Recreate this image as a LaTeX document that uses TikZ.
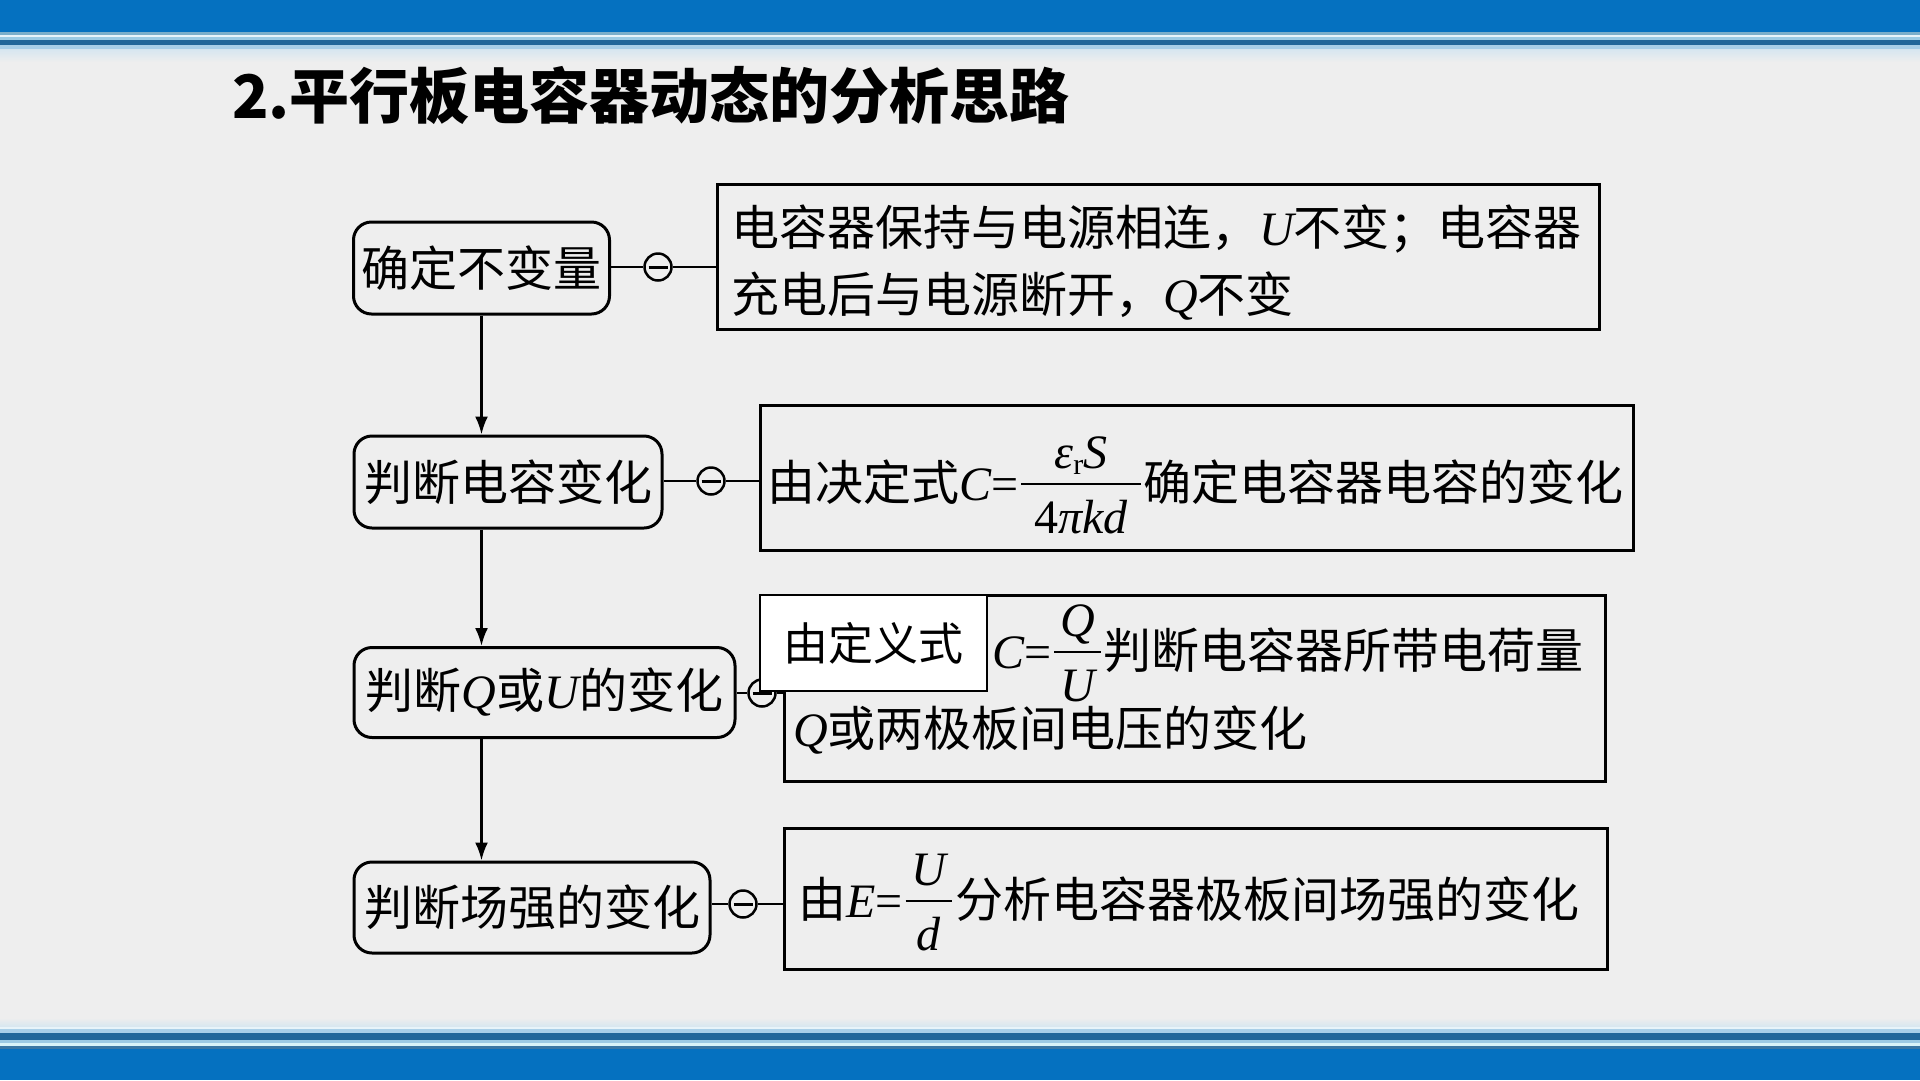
\documentclass[tikz,border=0pt]{standalone}
\usepackage{fontspec}
\setmainfont{Noto Sans CJK SC}
\newfontfamily\tms{Liberation Serif}
\usetikzlibrary{arrows.meta}
\definecolor{bg}{HTML}{EEEEEE}
\definecolor{topblue}{HTML}{0571C0}
\definecolor{sA}{HTML}{7BAFCB}
\definecolor{sB}{HTML}{E8F4FA}
\definecolor{sC}{HTML}{9CCBE4}
\definecolor{sD}{HTML}{22679A}
\definecolor{sE}{HTML}{A9CFE8}
\definecolor{sF}{HTML}{D6E6F0}
\definecolor{sG}{HTML}{D8F4F8}
\definecolor{sH}{HTML}{3A78A4}
\newcommand\fsz[1]{\fontsize{#1}{#1}\selectfont}
\newcommand\mi[1]{{\tms\itshape\fsz{48}#1}}
\newcommand\mr[1]{{\tms\fsz{48}#1}}
\newlength\fracw
\newsavebox\fnum
\newsavebox\fden
\newcommand\vfrac[3][12pt]{%
  \sbox\fnum{#2}\sbox\fden{#3}%
  \setlength\fracw{\wd\fnum}%
  \ifdim\wd\fden>\fracw \setlength\fracw{\wd\fden}\fi
  \addtolength\fracw{#1}%
  \kern3pt
  \rlap{\raisebox{32pt}{\makebox[\fracw]{\usebox\fnum}}}%
  \rlap{\raisebox{-33pt}{\makebox[\fracw]{\usebox\fden}}}%
  \raisebox{15pt}{\rule{\fracw}{2.4pt}}%
  \kern3pt}
\begin{document}
\begin{tikzpicture}[x=1pt,y=-1pt,
  lbox/.style={draw,line width=3pt,rounded corners=18pt,inner sep=0pt,font=\fsz{48}},
  rbox/.style={draw,line width=3pt,inner sep=0pt},
  wbox/.style={draw,fill=white,line width=2pt,inner sep=0pt,font=\fsz{45}},
  txt/.style={anchor=base west,inner sep=0pt,font=\fsz{48}},
  minuscirc/.style={circle,draw,line width=2.5pt,minimum size=27pt,inner sep=0pt,
    path picture={\draw[line width=3pt] ([xshift=4pt]path picture bounding box.west) -- ([xshift=-4pt]path picture bounding box.east);}},
  conn/.style={line width=2.5pt},
  arr/.style={line width=2.5pt,-{Latex[length=18pt,width=13pt]}}]
\useasboundingbox (0,0) rectangle (1920,1080);
% background and bands
\fill[bg] (0,0) rectangle (1920,1080);
\fill[topblue] (0,0) rectangle (1920,32);
\fill[sA] (0,32) rectangle (1920,35);
\fill[sB] (0,35) rectangle (1920,37);
\fill[sC] (0,37) rectangle (1920,40);
\fill[sD] (0,40) rectangle (1920,45);
\fill[sE] (0,45) rectangle (1920,49);
\shade[top color=sF,bottom color=bg] (0,49) rectangle (1920,62);
\shade[top color=bg,bottom color=sF] (0,1018) rectangle (1920,1027);
\fill[sB] (0,1027) rectangle (1920,1029);
\fill[sE] (0,1029) rectangle (1920,1033);
\fill[sD] (0,1033) rectangle (1920,1040);
\fill[sC] (0,1040) rectangle (1920,1043);
\fill[sG] (0,1043) rectangle (1920,1046);
\fill[sH] (0,1046) rectangle (1920,1049);
\fill[topblue] (0,1049) rectangle (1920,1080);
% title
\node[anchor=base west,inner sep=0pt,font=\fsz{60}\bfseries] (title) at (232,118) {2.平行板电容器动态的分析思路};
% left boxes
\node[lbox,minimum width=256pt,minimum height=92pt] (b1) at (481.5,268) {确定不变量};
\node[lbox,minimum width=308pt,minimum height=92pt] (b2) at (508,482) {判断电容变化};
\node[lbox,minimum width=381pt,minimum height=90pt] (b3) at (544.5,692.5) {判断\mi{Q}或\mi{U}的变化};
\node[lbox,minimum width=356pt,minimum height=91pt] (b4) at (532,907.5) {判断场强的变化};
% arrows
\draw[arr] (b1.south) -- (b1.south |- b2.north);
\draw[arr] (b1.south |- b2.south) -- (b1.south |- b3.north);
\draw[arr] (b1.south |- b3.south) -- (b1.south |- b4.north);
% right boxes
\node[rbox,minimum width=882pt,minimum height=145pt] (r1) at (1158,256.5) {};
\node[rbox,minimum width=873pt,minimum height=145pt] (r2) at (1196.5,477.5) {};
\node[rbox,minimum width=821pt,minimum height=186pt] (r3) at (1194.5,688) {};
\node[rbox,minimum width=823pt,minimum height=141pt] (r4) at (1195.5,898.5) {};
% circles and connectors
\node[minuscirc] (c1) at (658,267) {};
\node[minuscirc] (c2) at (711,481) {};
\node[minuscirc] (c3) at (762,693) {};
\node[minuscirc] (c4) at (743,904) {};
\draw[conn] (c1) -- (b1.east |- c1);
\draw[conn] (c1) -- (c1 -| r1.west);
\draw[conn] (c2) -- (b2.east |- c2);
\draw[conn] (c2) -- (c2 -| r2.west);
\draw[conn] (c3) -- (b3.east |- c3);
\draw[conn] (c3) -- (c3 -| r3.west);
\draw[conn] (c4) -- (b4.east |- c4);
\draw[conn] (c4) -- (c4 -| r4.west);
% texts
\node[txt] (t1a) at (731,245) {电容器保持与电源相连，\mi{U}不变；电容器};
\node[txt] (t1b) at (731,312) {充电后与电源断开，\mi{Q}不变};
\node[txt] (t2) at (767,500) {由决定式\mi{C}\mr{=}\vfrac[26pt]{\mi{ε}\raisebox{-6pt}{\tms\fsz{30}r}\mi{S}}{\mr{4}\mi{πkd}}确定电容器电容的变化};
\node[txt] (t3a) at (992,668) {\mi{C}\mr{=}\vfrac{\mi{Q}}{\mi{U}}判断电容器所带电荷量};
\node[txt] (t3b) at (793,746) {\mi{Q}或两极板间电压的变化};
\node[txt] (t4) at (798,917) {由\mi{E}\mr{=}\vfrac{\mi{U}}{\mi{d}}分析电容器极板间场强的变化};
% white label box
\node[wbox,minimum width=227pt,minimum height=96pt] (w1) at (873.5,643) {由定义式};
\end{tikzpicture}
\end{document}
